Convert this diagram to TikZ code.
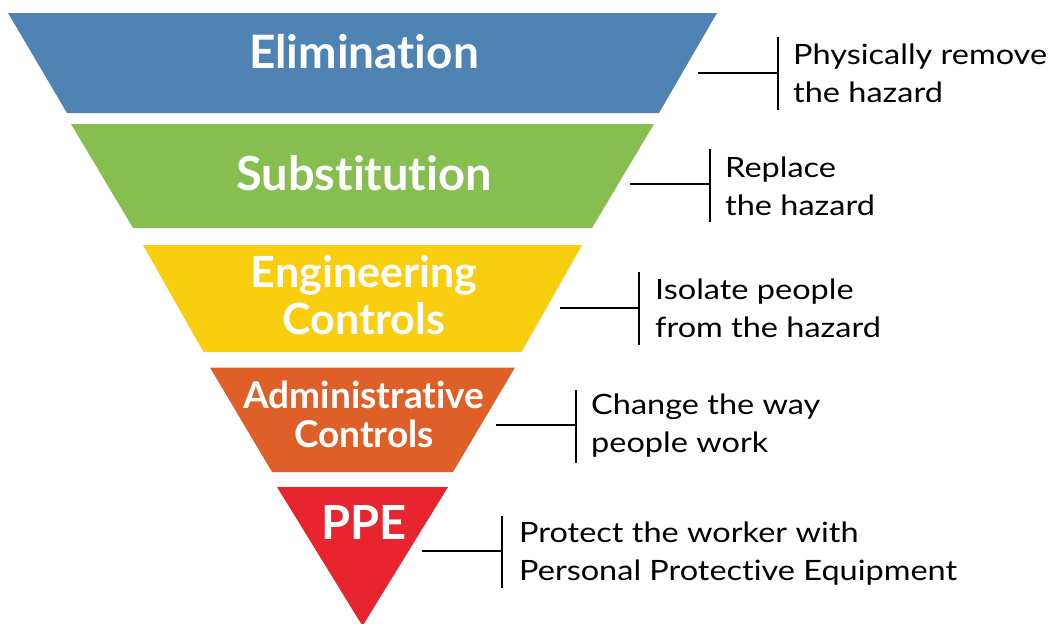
\documentclass[tikz,border=0pt]{standalone}
\usepackage{fontspec}
\setmainfont{Lato}[Ligatures=NoCommon]
\newfontfamily\descfont{Lato}[FakeStretch=1.16, Ligatures=NoCommon]
\definecolor{cblue}{RGB}{79,131,180}
\definecolor{cgreen}{RGB}{135,190,80}
\definecolor{cyellow}{RGB}{249,206,14}
\definecolor{corange}{RGB}{222,95,40}
\definecolor{cred}{RGB}{232,36,46}
\begin{document}
\begin{tikzpicture}[x=1pt,y=-1pt,
  lbl/.style={text=white, align=center, inner sep=0pt, anchor=base},
  desc/.style={font=\descfont\fontsize{28}{37.5}\selectfont, align=left, anchor=base west, inner sep=0pt, text=black},
  link/.style={line width=2.6pt, black}]
\useasboundingbox (0,0) rectangle (1050,624);
% bands
\fill[cblue] (8,13) -- (717,13) -- (659,113) -- (67,113) -- cycle;
\fill[cgreen] (71,124) -- (654,124) -- (592,228) -- (133,228) -- cycle;
\fill[cyellow] (143,245) -- (582,245) -- (521.5,352) -- (203.5,352) -- cycle;
\fill[corange] (210,367.5) -- (515,367.5) -- (453,472) -- (272,472) -- cycle;
\fill[cred] (277,487) -- (448,487) -- (362.5,626) -- cycle;
% labels (base anchor = last line baseline)
\node[lbl, font=\fontsize{46}{46}\selectfont\bfseries] (elim) at (364,68) {Elimination};
\node[lbl, font=\fontsize{47}{47}\selectfont\bfseries] (subs) at (364,190) {Substitution};
\node[lbl, font=\fontsize{43}{47}\selectfont\bfseries] (eng) at (364,334) {Engineering\\Controls};
\node[lbl, font=\fontsize{37}{39}\selectfont\bfseries] (adm) at (364,447) {Administrative\\Controls};
\node[lbl, font=\fontsize{47}{47}\selectfont\bfseries] (ppe) at (364,539) {PPE};
% descriptions
\node[desc] (d1) at (793,102) {Physically remove\\the hazard};
\node[desc] (d2) at (725,215) {Replace\\the hazard};
\node[desc] (d3) at (655,337) {Isolate people\\from the hazard};
\node[desc] (d4) at (591,452) {Change the way\\people work};
\node[desc] (d5) at (519,580) {Protect the worker with\\Personal Protective Equipment};
% connectors
\coordinate (s1) at (698,73); \coordinate (b1t) at (778,37); \coordinate (b1b) at (778,110);
\coordinate (s2) at (630,184); \coordinate (b2t) at (710,149); \coordinate (b2b) at (710,222);
\coordinate (s3) at (560,308); \coordinate (b3t) at (639,272); \coordinate (b3b) at (639,345);
\coordinate (s4) at (496,425); \coordinate (b4t) at (576,390); \coordinate (b4b) at (576,463);
\coordinate (s5) at (422,551); \coordinate (b5t) at (502,516); \coordinate (b5b) at (502,588);
\foreach \i in {1,...,5}{
  \draw[link] (s\i) -- (s\i -| b\i t);
  \draw[link] (b\i t) -- (b\i b);
}
\end{tikzpicture}
\end{document}
